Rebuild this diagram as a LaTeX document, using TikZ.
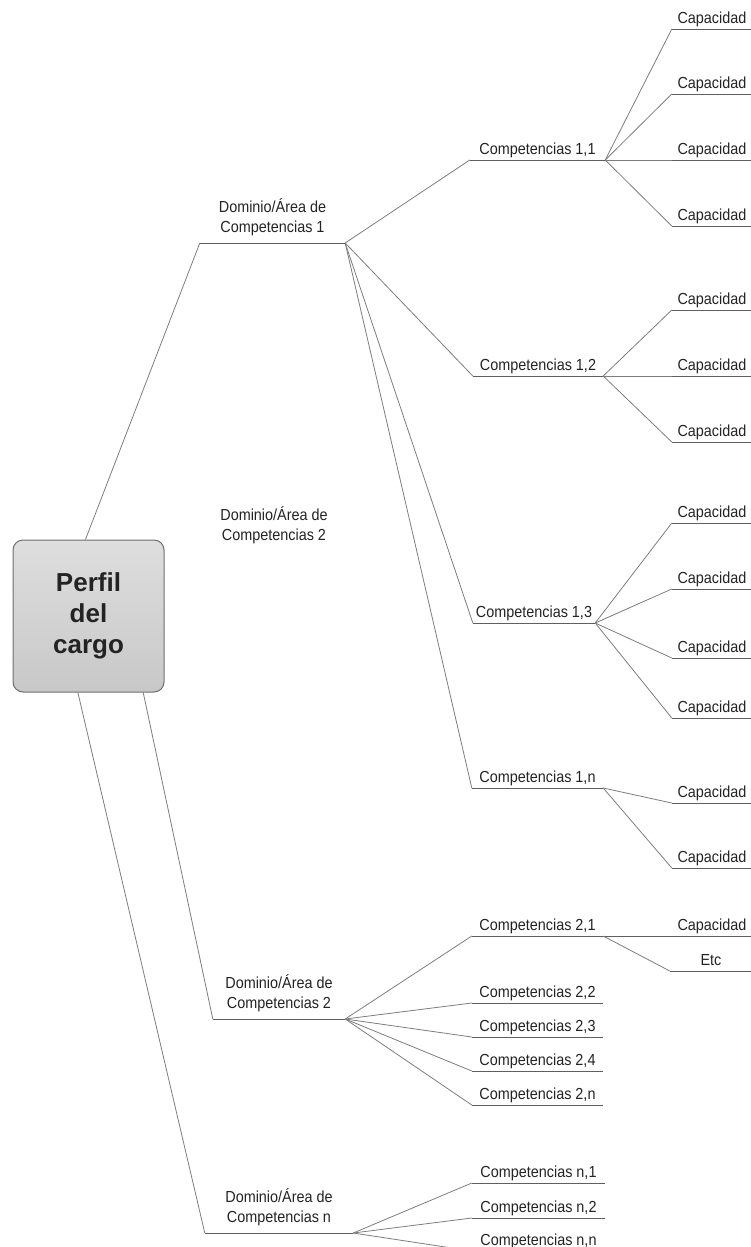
\documentclass[tikz,border=0pt]{standalone}
\usepackage{fontspec}
\setmainfont[FakeStretch=0.9]{Liberation Sans}
\newfontfamily\titlefont{Liberation Sans}
\usetikzlibrary{calc}
\definecolor{linec}{RGB}{125,125,125}
\definecolor{ulc}{RGB}{95,95,95}
\definecolor{txt}{RGB}{35,35,35}
\definecolor{boxd}{RGB}{110,110,110}
\definecolor{boxt}{RGB}{222,222,222}
\definecolor{boxb}{RGB}{200,200,200}
\begin{document}
\begin{tikzpicture}[x=1pt,y=-1pt,
  lab/.style={inner sep=0pt, anchor=south, text depth=5pt, text=txt, font=\fontsize{16}{20}\selectfont},
  dlab/.style={lab, text depth=10pt},
  comp/.style={lab, minimum width=131pt},
  capa/.style={lab, minimum width=80pt},
  uline/.style={draw=ulc, line width=0.9pt},
  conn/.style={draw=linec, line width=0.8pt},
  perfil/.style={draw=boxd, line width=1pt, rounded corners=10pt, top color=boxt, bottom color=boxb,
    minimum width=151pt, minimum height=152pt, inner sep=0pt, align=center, text=txt,
    font=\titlefont\bfseries\fontsize{26}{31}\selectfont}]
\useasboundingbox (0,0) rectangle (750,1247);

% central box
\node[perfil] (box) at (88.5,616) {Perfil\\del\\cargo};
\coordinate (bt) at ($(box.north west)!0.48!(box.north east)$);
\coordinate (bb1) at ($(box.south west)!0.43!(box.south east)$);
\coordinate (bb2) at ($(box.south west)!0.86!(box.south east)$);

% domain labels
\node[dlab, minimum width=145pt] (d1) at (272.5,243) {\begin{tabular}[b]{@{}c@{}}Dominio/Área de\\Competencias 1\end{tabular}};
\node[lab, anchor=base] (dg) at (274,540) {\begin{tabular}[b]{@{}c@{}}Dominio/Área de\\Competencias 2\end{tabular}};
\node[dlab, minimum width=132pt] (d2) at (279,1019) {\begin{tabular}[b]{@{}c@{}}Dominio/Área de\\Competencias 2\end{tabular}};
\node[dlab, minimum width=148pt] (dn) at (279,1233) {\begin{tabular}[b]{@{}c@{}}Dominio/Área de\\Competencias n\end{tabular}};

% competencias
\node[comp, minimum width=135pt] (c11) at (537.5,160) {Competencias 1,1};
\node[comp, minimum width=130pt] (c12) at (538,376) {Competencias 1,2};
\node[comp, minimum width=122pt] (c13) at (534,623) {Competencias 1,3};
\node[comp] (c1n) at (537.5,788) {Competencias 1,n};
\node[comp] (c21) at (537.5,936) {Competencias 2,1};
\node[comp] (c22) at (537.5,1003) {Competencias 2,2};
\node[comp] (c23) at (537.5,1037) {Competencias 2,3};
\node[comp] (c24) at (537.5,1071) {Competencias 2,4};
\node[comp] (c2n) at (537.5,1105) {Competencias 2,n};
\node[comp, minimum width=133pt] (cn1) at (538.5,1183) {Competencias n,1};
\node[comp, minimum width=133pt] (cn2) at (538.5,1218) {Competencias n,2};
\node[comp, minimum width=133pt] (cnn) at (538.5,1251) {Competencias n,n};

% capacidades
\node[capa] (k11a) at (712,29) {Capacidad};
\node[capa] (k11b) at (712,94) {Capacidad};
\node[capa] (k11c) at (712,160) {Capacidad};
\node[capa] (k11d) at (712,226) {Capacidad};
\node[capa] (k12a) at (712,310) {Capacidad};
\node[capa] (k12b) at (712,376) {Capacidad};
\node[capa] (k12c) at (712,442) {Capacidad};
\node[capa] (k13a) at (712,523) {Capacidad};
\node[capa] (k13b) at (712,589) {Capacidad};
\node[capa] (k13c) at (712,658) {Capacidad};
\node[capa] (k13d) at (712,718) {Capacidad};
\node[capa] (k1na) at (712,803) {Capacidad};
\node[capa] (k1nb) at (712,868) {Capacidad};
\node[capa] (k21a) at (712,936) {Capacidad};
\node[capa, minimum width=82pt] (k21b) at (711,971) {Etc};

% underlines
\foreach \n in {d1,d2,dn,c11,c12,c13,c1n,c21,c22,c23,c24,c2n,cn1,cn2,cnn,
  k11a,k11b,k11c,k11d,k12a,k12b,k12c,k13a,k13b,k13c,k13d,k1na,k1nb,k21a,k21b}
  \draw[uline] (\n.south west) -- (\n.south east);

% connectors from the central box
\draw[conn] (bt) -- (d1.south west);
\draw[conn] (bb2) -- (d2.south west);
\draw[conn] (bb1) -- (dn.south west);

% domain 1
\foreach \c in {c11,c12,c13,c1n}
  \draw[conn] (d1.south east) -- (\c.south west);
\foreach \k in {k11a,k11b,k11c,k11d}
  \draw[conn] (c11.south east) -- (\k.south west);
\foreach \k in {k12a,k12b,k12c}
  \draw[conn] (c12.south east) -- (\k.south west);
\foreach \k in {k13a,k13b,k13c,k13d}
  \draw[conn] (c13.south east) -- (\k.south west);
\foreach \k in {k1na,k1nb}
  \draw[conn] (c1n.south east) -- (\k.south west);

% domain 2
\foreach \c in {c21,c22,c23,c24,c2n}
  \draw[conn] (d2.south east) -- (\c.south west);
\draw[uline] (c21.south east) -- (k21a.south west);
\draw[conn] (c21.south east) -- (k21b.south west);

% domain n
\foreach \c in {cn1,cn2,cnn}
  \draw[conn] (dn.south east) -- (\c.south west);
\end{tikzpicture}
\end{document}
